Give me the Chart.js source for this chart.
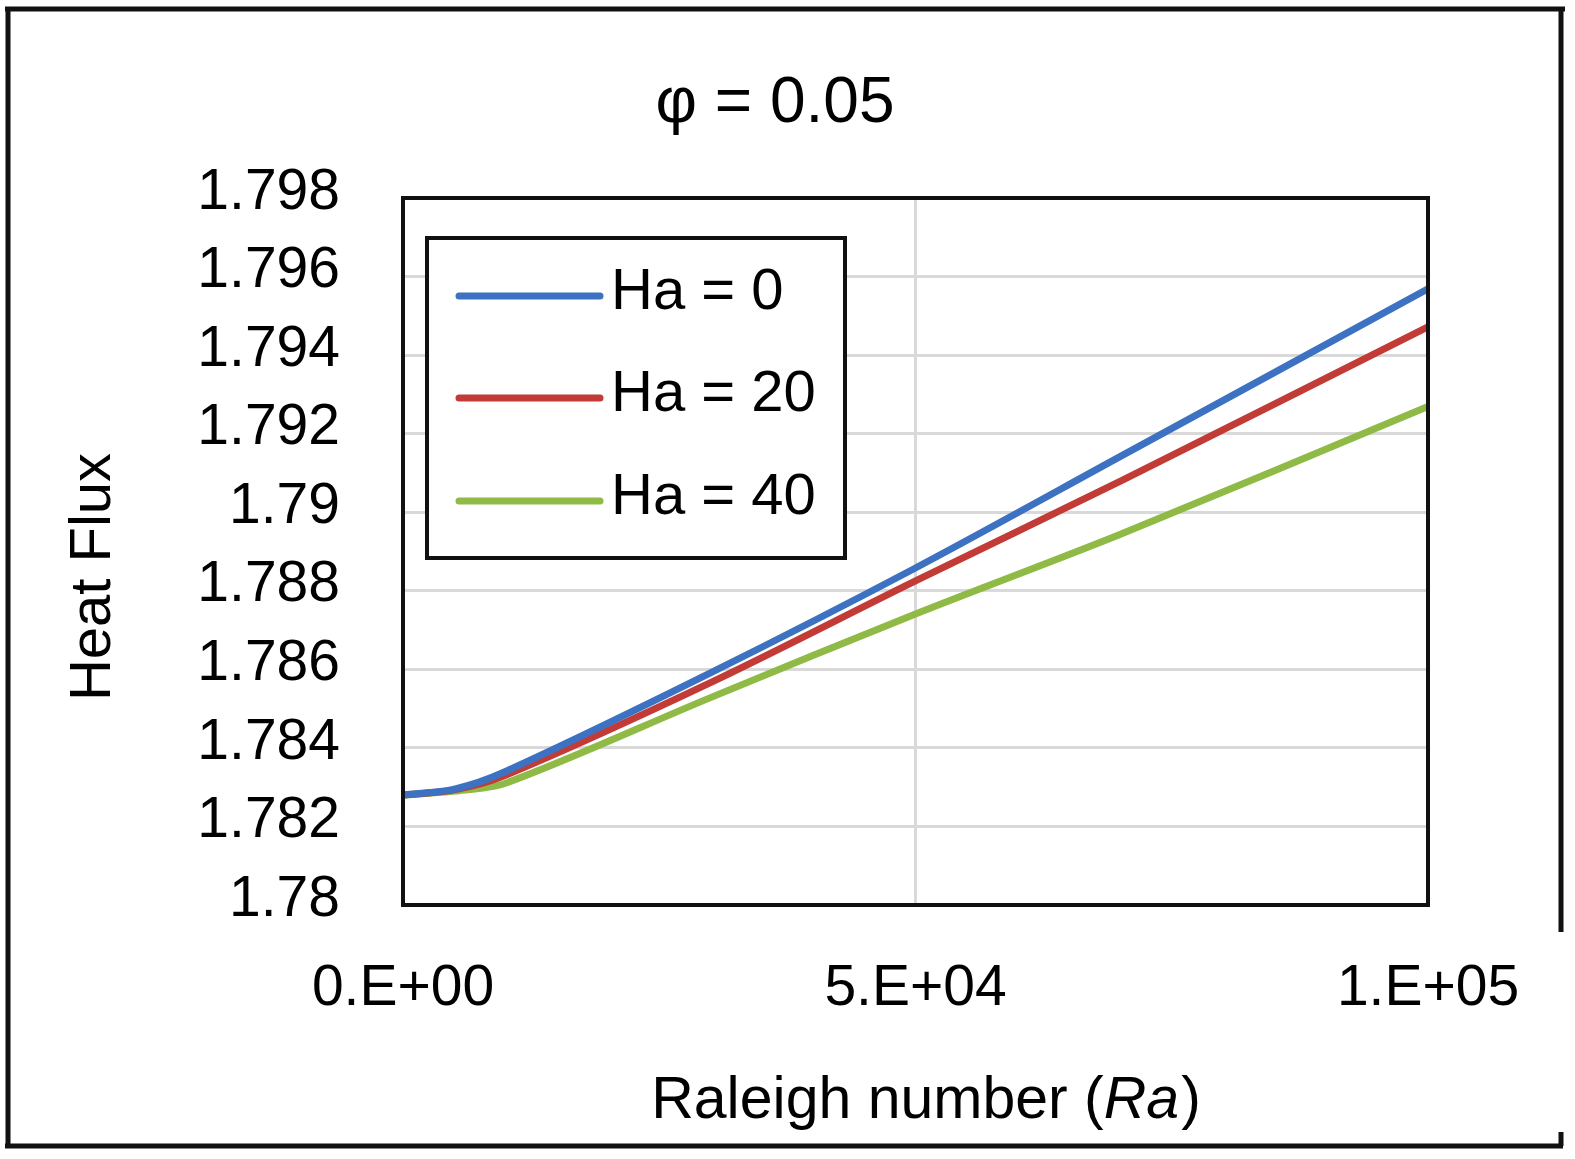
<!DOCTYPE html>
<html>
<head>
<meta charset="utf-8">
<script src="https://cdn.jsdelivr.net/npm/chart.js@4/dist/chart.umd.min.js"></script>
<style>
  html, body { margin: 0; padding: 0; background: #fff; overflow: hidden; }
  #wrap { width: 1575px; height: 1159px; position: relative; }
  canvas { display: block; }
</style>
</head>
<body>
<div id="wrap"><canvas id="chart-flux" width="1575" height="1159"></canvas></div>
<script>
// data
const raValues = [0, 5000, 10000, 30000, 50000, 70000, 100000];
const ha0 = [1.7828, 1.78295, 1.7834, 1.78591, 1.78858, 1.79142, 1.79569];
const ha20 = [1.7828, 1.78293, 1.7833, 1.78566, 1.78825, 1.79079, 1.79472];
const ha40 = [1.7828, 1.7829, 1.7831, 1.78528, 1.78741, 1.78944, 1.79269];
const seriesLabels = ["Ha = 0", "Ha = 20", "Ha = 40"];
const xTickLabels = { 0: "0.E+00", 50000: "5.E+04", 100000: "1.E+05" };

const FONT = "'Liberation Sans', Arial, sans-serif";

const toPoints = (ys) => raValues.map((x, i) => ({ x: x, y: ys[i] }));

// white background, frames, titles and legend box
const decor = {
  id: "decor",
  beforeDraw(chart) {
    const c = chart.ctx;
    c.save();
    c.fillStyle = "#fff";
    c.fillRect(0, 0, chart.width, chart.height);
    c.restore();
  },
  afterDatasetsDraw(chart) {
    const c = chart.ctx;
    const a = chart.chartArea;
    c.save();
    // plot frame
    c.strokeStyle = "#111";
    c.lineWidth = 4;
    c.strokeRect(a.left, a.top, a.right - a.left, a.bottom - a.top);
    c.restore();
  },
  afterDraw(chart) {
    const c = chart.ctx;
    c.save();
    // outer frame
    c.strokeStyle = "#111";
    c.lineWidth = 5;
    c.beginPath();
    c.moveTo(5, 9); c.lineTo(1565, 9);
    c.moveTo(8, 9); c.lineTo(8, 1147);
    c.moveTo(5, 1146); c.lineTo(1563, 1146);
    c.moveTo(1561, 9); c.lineTo(1561, 932);
    c.moveTo(1561, 1132); c.lineTo(1561, 1146);
    c.stroke();

    c.fillStyle = "#000";
    // title
    c.font = "64px " + FONT;
    c.textAlign = "center";
    c.textBaseline = "alphabetic";
    c.fillText("\u03c6 = 0.05", 775, 122);

    // y axis title
    c.save();
    c.font = "58px " + FONT;
    c.translate(110, 577);
    c.rotate(-Math.PI / 2);
    c.fillText("Heat Flux", 0, 0);
    c.restore();

    // x axis title with italic Ra
    const p1 = "Raleigh number (";
    const p2 = "Ra";
    const p3 = ")";
    const fs = "59px ";
    c.font = fs + FONT;
    const w1 = c.measureText(p1).width;
    const w3 = c.measureText(p3).width;
    c.font = "italic " + fs + FONT;
    const w2 = c.measureText(p2).width;
    let x = 925 - (w1 + w2 + w3) / 2;
    c.textAlign = "left";
    c.font = fs + FONT;
    c.fillText(p1, x, 1118);
    c.font = "italic " + fs + FONT;
    c.fillText(p2, x + w1, 1118);
    c.font = fs + FONT;
    c.fillText(p3, x + w1 + w2 + 2, 1118);

    // legend box
    c.fillStyle = "#fff";
    c.fillRect(427, 238, 418, 320);
    c.strokeStyle = "#111";
    c.lineWidth = 4;
    c.strokeRect(427, 238, 418, 320);
    const rows = [296, 398, 501];
    chart.data.datasets.forEach((ds, i) => {
      c.strokeStyle = ds.borderColor;
      c.lineWidth = 7;
      c.lineCap = "round";
      c.beginPath();
      c.moveTo(459, rows[i]);
      c.lineTo(600, rows[i]);
      c.stroke();
      c.fillStyle = "#000";
      c.font = "58px " + FONT;
      c.textAlign = "left";
      c.fillText(ds.label, 611, rows[i] + 13);
    });
    c.restore();
  },
};

const ctx = document.getElementById("chart-flux").getContext("2d");
const fluxChart = new Chart(ctx, {
  type: "line",
  data: {
    datasets: [
      { label: seriesLabels[0], data: toPoints(ha0), borderColor: "#3D72C2" },
      { label: seriesLabels[1], data: toPoints(ha20), borderColor: "#C23B36" },
      { label: seriesLabels[2], data: toPoints(ha40), borderColor: "#8EBA45" },
    ].map((d) => Object.assign(d, {
      borderWidth: 7,
      pointRadius: 0,
      fill: false,
      tension: 0.3,
    })),
  },
  options: {
    responsive: false,
    animation: false,
    devicePixelRatio: 1,
    layout: { padding: { left: 60, top: 198, right: 147, bottom: 0 } },
    plugins: {
      legend: { display: false },
      title: { display: false },
      tooltip: { enabled: false },
    },
    scales: {
      x: {
        type: "linear",
        min: 0,
        max: 100000,
        afterFit: (s) => { s.height = 254; },
        afterBuildTicks: (s) => {
          s.ticks = [{ value: 0 }, { value: 50000 }, { value: 100000 }];
        },
        ticks: {
          padding: 50,
          color: "#000",
          font: { size: 57, family: FONT },
          maxRotation: 0,
          callback: (v) => xTickLabels[v] || "",
        },
        grid: {
          drawTicks: false,
          lineWidth: 3,
          color: (g) => (g.tick && g.tick.value === 50000 ? "#d9d9d9" : "rgba(0,0,0,0)"),
        },
        border: { display: false },
      },
      y: {
        min: 1.78,
        max: 1.798,
        afterFit: (s) => { s.width = 343; },
        ticks: {
          stepSize: 0.002,
          padding: 63,
          labelOffset: -5,
          color: "#000",
          font: { size: 57, family: FONT },
          callback: (v) => parseFloat(v.toFixed(3)).toString(),
        },
        grid: { drawTicks: false, lineWidth: 3, color: "#d9d9d9" },
        border: { display: false },
      },
    },
  },
  plugins: [decor],
});
</script>
</body>
</html>
